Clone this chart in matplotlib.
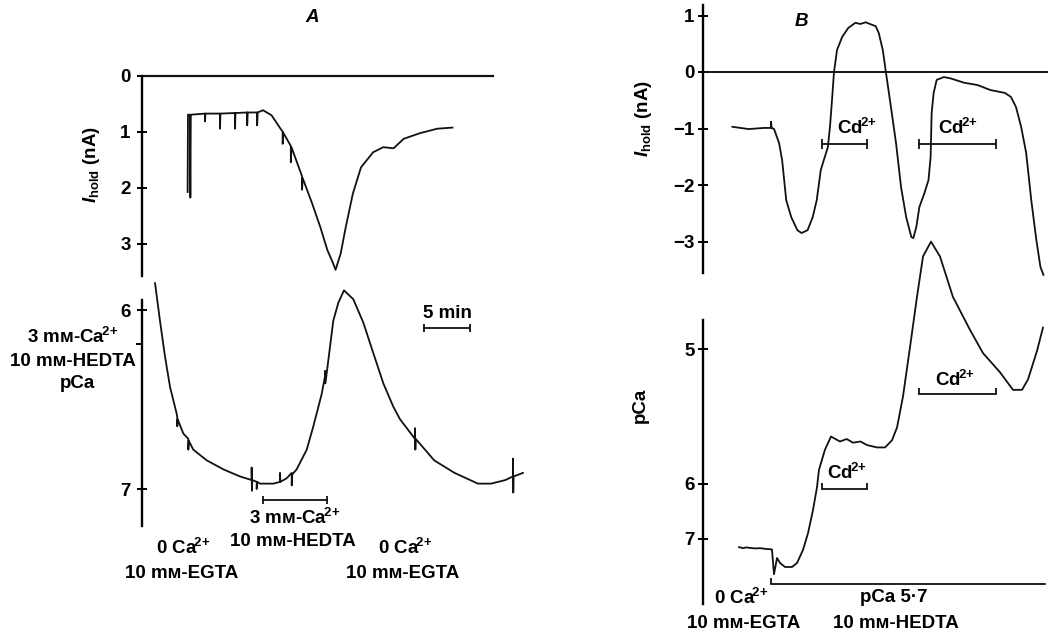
import numpy as np
import matplotlib
matplotlib.use("Agg")
import matplotlib.pyplot as plt

# ---- data (time in min) ----
# A, top: holding current (nA)
a_top_t = [5.05, 5.09, 5.3, 5.35, 5.4,
           6.95, 6.95, 7.0, 8.59, 8.59, 8.64, 10.23, 10.23, 10.28,
           11.56, 11.56, 11.61, 12.65, 12.65, 12.7, 13.29, 14.22,
           15.33, 15.44, 15.44, 15.5, 16.33, 16.33, 16.4, 17.56, 17.56, 17.62,
           18.67, 19.56, 20.33, 20.89, 21.22, 21.78, 22.33, 23.11, 24.0,
           25.33, 26.44, 27.56, 28.67, 30.44, 32.33, 34.0]
a_top_na = [2.08, 0.70, 0.70, 2.18, 0.70,
            0.68, 0.82, 0.68, 0.68, 0.95, 0.68, 0.67, 0.95, 0.67,
            0.66, 0.89, 0.66, 0.66, 0.89, 0.66, 0.62, 0.71,
            0.98, 1.00, 1.22, 1.02, 1.26, 1.55, 1.28, 1.80, 2.04, 1.83,
            2.29, 2.71, 3.12, 3.33, 3.47, 3.18, 2.71, 2.11, 1.64,
            1.37, 1.28, 1.30, 1.13, 1.03, 0.95, 0.93]

# A, bottom: pCa
a_bot_t = [1.49, 2.03, 2.58, 3.13, 3.86, 3.92, 3.92, 3.96, 4.58,
           5.13, 5.13, 5.17, 5.67, 7.14, 8.95, 10.78,
           12.05, 12.05, 12.08, 12.12, 12.6, 12.6, 12.64, 12.96, 14.42,
           15.15, 15.15, 15.19, 15.88, 16.43, 16.43, 16.47, 16.97,
           18.07, 18.79, 19.70, 20.07, 20.07, 20.11, 20.43, 20.97, 21.52,
           22.14, 23.16, 24.25, 25.34, 26.44, 27.53, 28.26,
           29.9, 29.9, 29.94, 29.98, 32.0, 34.22, 36.78, 38.22, 39.78,
           40.6, 40.6, 40.64, 40.68, 41.7]
a_bot_pca = [5.85, 6.06, 6.26, 6.43, 6.58, 6.60, 6.65, 6.61, 6.69,
             6.72, 6.78, 6.73, 6.78, 6.84, 6.89, 6.93,
             6.95, 6.88, 7.01, 6.95, 6.96, 7.00, 6.96, 6.97, 6.97,
             6.96, 6.91, 6.96, 6.94, 6.91, 6.98, 6.92, 6.89,
             6.78, 6.65, 6.47, 6.37, 6.34, 6.41, 6.28, 6.06, 5.96,
             5.89, 5.94, 6.07, 6.24, 6.41, 6.54, 6.61,
             6.72, 6.66, 6.78, 6.72, 6.84, 6.91, 6.97, 6.97, 6.95,
             6.93, 6.83, 7.02, 6.93, 6.91]

# B, top: holding current (nA)
b_top_t = [3.0, 4.78, 6.44, 7.22, 7.22, 7.3, 7.56, 8.11, 8.44, 8.89, 9.44,
           10.11, 10.56, 11.22, 11.78, 12.22, 12.67, 13.11, 13.44, 13.67,
           13.89, 14.11, 14.44, 15.0, 15.67, 16.44, 17.0, 17.56, 18.67, 19.0,
           19.44, 19.78, 20.33, 20.89, 21.44, 22.0, 22.56, 22.78, 23.11,
           23.44, 24.0, 24.44, 24.67, 24.78, 25.0, 25.33, 26.11, 26.78,
           28.33, 29.78, 31.22, 32.78, 33.44, 34.0, 34.56, 35.11, 35.67,
           36.22, 36.67, 37.0]
b_top_na = [-0.97, -1.01, -0.99, -0.99, -0.88, -0.99, -1.01, -1.26, -1.56,
            -2.27, -2.57, -2.80, -2.85, -2.80, -2.57, -2.27, -1.73, -1.50,
            -1.33, -0.97, -0.50, 0.0, 0.39, 0.62, 0.78, 0.87, 0.85, 0.88,
            0.81, 0.69, 0.39, 0.0, -0.62, -1.26, -2.04, -2.57, -2.92, -2.94,
            -2.74, -2.39, -2.14, -1.91, -1.50, -0.73, -0.37, -0.14, -0.09,
            -0.11, -0.19, -0.23, -0.32, -0.37, -0.44, -0.62, -0.97, -1.43,
            -2.27, -2.97, -3.45, -3.59]

# B, bottom: pCa
b_bot_t = [3.73, 4.2, 4.5, 4.93, 5.5, 6.02, 6.7, 7.33, 7.55, 7.88, 8.21,
           8.75, 9.52, 10.07, 10.72, 11.27, 11.81, 12.25, 12.47, 13.12,
           13.78, 14.76, 15.5, 16.19, 17.0, 17.72, 18.81, 19.69, 20.45,
           21.0, 21.65, 22.42, 23.18, 23.84, 24.71, 25.69, 27.1, 28.97,
           30.39, 32.25, 33.67, 34.66, 35.31, 36.29, 36.95]
b_bot_pca = [7.27, 7.31, 7.28, 7.30, 7.32, 7.31, 7.34, 7.36, 10.0, 7.78, 8.12,
             8.50, 8.50, 8.12, 7.38, 6.84, 6.37, 6.04, 5.84, 5.65,
             5.54, 5.58, 5.56, 5.59, 5.58, 5.61, 5.63, 5.63, 5.57,
             5.47, 5.26, 4.99, 4.77, 4.62, 4.57, 4.62, 4.77, 4.91,
             5.02, 5.12, 5.22, 5.22, 5.16, 5.01, 4.90]

# solution changes (min)
a_hedta_on = [13.33, 20.33]
b_cd_on = [12.8, 23.4]
b_cd_off = [17.7, 31.85]
b_hedta_on = [7.22, 37.2]
scale_min = 5

a_top_ticks = [0, 1, 2, 3]
a_bot_ticks = [6, 7]
b_top_ticks = [1, 0, -1, -2, -3]
b_bot_ticks = [5, 6, 7]


def ratio(p):
    # fluorescence-ratio calibration used for the pCa axis in B
    return 10 ** (-0.39 * (np.asarray(p, dtype=float) - 6))


plt.rcParams.update({
    "font.family": "Liberation Sans",
    "font.weight": "bold",
    "font.size": 13.5,
    "mathtext.fontset": "custom",
    "mathtext.rm": "Liberation Sans:bold",
    "mathtext.it": "Liberation Sans:italic:bold",
    "mathtext.bf": "Liberation Sans:bold",
})

W, H = 1063, 634
PX_MIN = 9.15
fig = plt.figure(figsize=(W / 100, H / 100), dpi=100)
LW = 1.3
K = "#111111"
CA = r"$\mathrm{Ca}^{\!2\!+}$"
CD = r"$\mathrm{Cd}^{\!2\!+}$"


def px_axes(left, top, right, bottom, t0_px, yfun, pad):
    ax = fig.add_axes([left / W, 1 - bottom / H, (right - left) / W, (bottom - top) / H])
    ax.patch.set_visible(False)
    for s in ("top", "right", "bottom"):
        ax.spines[s].set_visible(False)
    ax.spines["left"].set_linewidth(1.7)
    ax.set_xticks([])
    ax.set_xlim((left - t0_px) / PX_MIN, (right - t0_px) / PX_MIN)
    ax.set_ylim(yfun(bottom), yfun(top))
    ax.tick_params(axis="y", direction="inout", length=7, width=1.4,
                   labelsize=13.5, pad=pad)
    return ax


def ftext(x, y, s, **kw):
    fig.text(x / W, 1 - y / H, s, ha="center", va="center", **kw)


def bar(ax, t0, t1, y, marker="|", ms=6):
    ax.plot([t0, t1], [y, y], color=K, lw=LW, clip_on=False)
    ax.plot([t0, t1], [y, y], ls="none", marker=marker, ms=ms, mew=LW, color=K, clip_on=False)


# pixel -> value maps for each trace axis
a_top_y = lambda y: (y - 75.5) / 56.0
a_bot_y = lambda y: 6 + (y - 310) / 179.0
b_top_y = lambda y: (72 - y) / 56.5
b_bot_y = lambda y: 1 + (484 - y) / 92.8

# ---- panel A ----
axA1 = px_axes(141.7, 40, 540, 290, 141.4, a_top_y, 4.5)
axA1.spines["left"].set_bounds(0, a_top_y(276))
axA1.set_yticks(a_top_ticks)
axA1.axhline(0, 0, (493 - 141.7) / (540 - 141.7), color=K, lw=1.6)
axA1.plot(a_top_t, a_top_na, color=K, lw=LW)

axA2 = px_axes(141.7, 265, 540, 540, 141.4, a_bot_y, 4.5)
axA2.spines["left"].set_bounds(a_bot_y(300), a_bot_y(526))
axA2.set_yticks(a_bot_ticks)
axA2.set_yticks([a_bot_y(344)], minor=True)
axA2.tick_params(axis="y", which="minor", direction="out", length=4, width=1.4)
axA2.plot(a_bot_t, a_bot_pca, color=K, lw=LW)
bar(axA2, a_hedta_on[0], a_hedta_on[1], a_bot_y(500))
bar(axA2, 30.9, 30.9 + scale_min, a_bot_y(328))

ftext(312, 18, "A", style="italic")
ftext(91.5, 164, r"$\mathit{I}_{\mathrm{hold}}$ (nA)", rotation=90)
ftext(73, 337, "3 mм-" + CA)
ftext(73, 362, "10 mм-HEDTA")
ftext(77, 384, "pCa")
ftext(447, 313, "5 min")
ftext(295, 518, "3 mм-" + CA)
ftext(293, 542, "10 mм-HEDTA")
ftext(183, 548, "0 " + CA)
ftext(182, 574, "10 mм-EGTA")
ftext(405, 548, "0 " + CA)
ftext(403, 574, "10 mм-EGTA")

# ---- panel B ----
axB1 = px_axes(702.7, 0, 1063, 290, 704.9, b_top_y, 2.5)
axB1.spines["left"].set_bounds(b_top_y(273), b_top_y(5))
axB1.set_yticks(b_top_ticks)
axB1.axhline(0, 0, (1047 - 702.7) / (1063 - 702.7), color=K, lw=1.4)
axB1.plot(b_top_t, b_top_na, color=K, lw=LW)
for t0, t1 in zip(b_cd_on, b_cd_off):
    bar(axB1, t0, t1, b_top_y(144), ms=7)

axB2 = px_axes(702.7, 225, 1063, 634, 704.9, b_bot_y, 2.5)
axB2.spines["left"].set_bounds(b_bot_y(604), b_bot_y(320))
axB2.set_yticks(ratio(b_bot_ticks))
axB2.set_yticklabels([str(v) for v in b_bot_ticks])
axB2.plot(b_bot_t, ratio(b_bot_pca), color=K, lw=LW)
bar(axB2, b_cd_on[0], b_cd_off[0], b_bot_y(489), marker=2, ms=4)
bar(axB2, b_cd_on[1], b_cd_off[1], b_bot_y(394), marker=2, ms=4)
axB2.plot(b_hedta_on, [b_bot_y(584)] * 2, color=K, lw=LW)
axB2.plot([b_hedta_on[0]], [b_bot_y(584)], marker=2, ms=4, mew=LW, color=K)

ftext(801.5, 22, "B", style="italic")
ftext(644, 118, r"$\mathit{I}_{\mathrm{hold}}$ (nA)", rotation=90)
ftext(640, 405, "pCa", rotation=90)
ftext(857.5, 128, CD)
ftext(958, 128, CD)
ftext(847, 473, CD)
ftext(955, 380, CD)
ftext(741.5, 598, "0 " + CA)
ftext(743.5, 623, "10 mм-EGTA")
ftext(894, 598, "pCa 5·7")
ftext(896, 623, "10 mм-HEDTA")

fig.savefig("out.png", dpi=100)
